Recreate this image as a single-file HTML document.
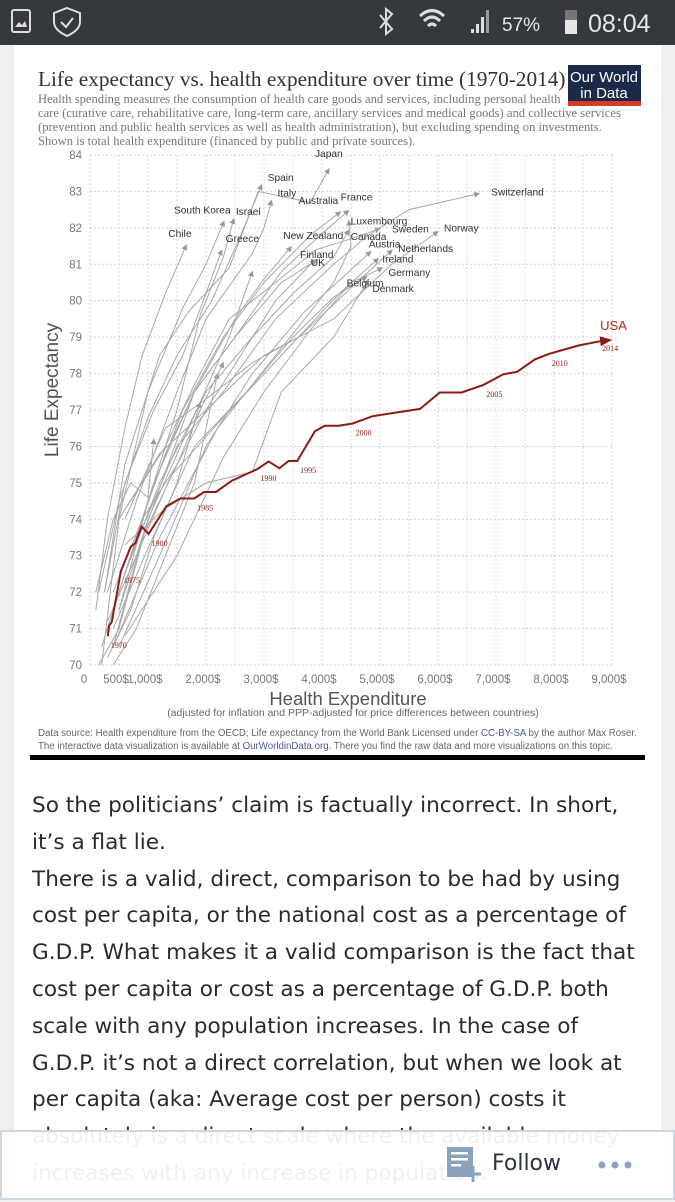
<!DOCTYPE html>
<html><head><meta charset="utf-8"><style>
*{margin:0;padding:0;box-sizing:border-box}
body{width:675px;height:1200px;overflow:hidden;background:#f0f0f0;font-family:"Liberation Sans",sans-serif;position:relative}
#status{position:absolute;left:0;top:0;width:675px;height:45px;background:#35383c;color:#e6e6e6}
#page{position:absolute;left:14px;top:45px;width:647px;height:1155px;background:#fff}
#article{position:absolute;left:32px;top:788px;width:640px;font-family:"DejaVu Sans",sans-serif;font-size:21.6px;line-height:36.8px;color:#2b2b2b;white-space:nowrap}
#follow{position:absolute;left:0;top:1130px;width:675px;height:70px;background:rgba(255,255,255,0.93);border:2px solid #cbd6de}
</style></head><body>
<div id="status">
 <svg width="675" height="45">
  <rect x="12" y="10" width="18" height="22" rx="2" fill="none" stroke="#ddd" stroke-width="2"/>
  <path d="M15 27 L19 22 L22 25 L25 21 L27 27Z" fill="#ddd"/>
  <path d="M67 8 L80 13 L80 22 Q80 30 67 36 Q54 30 54 22 L54 13Z" fill="none" stroke="#ddd" stroke-width="2"/>
  <path d="M61 22 L66 27 L73 18" fill="none" stroke="#ddd" stroke-width="2"/>
  <path d="M380 15 L392 29 L386 34 L386 9 L392 14 L380 28" fill="none" stroke="#ddd" stroke-width="2"/>
  <path d="M420 16 Q432 5 444 16 M424 21 Q432 13 440 21 M428 26 Q432 22 436 26" fill="none" stroke="#ddd" stroke-width="3"/>
  <rect x="471" y="29" width="3" height="4" fill="#ddd"/><rect x="476" y="24" width="3" height="9" fill="#ddd"/><rect x="481" y="17" width="3" height="16" fill="#ddd"/><rect x="486" y="10" width="3" height="23" fill="#999"/>
  <rect x="565" y="10" width="12" height="24" fill="#777"/><rect x="565" y="20" width="12" height="14" fill="#e6e6e6"/>
  <text x="502" y="31" font-size="19" fill="#e6e6e6" font-family="Liberation Sans">57%</text>
  <text x="588" y="32" font-size="25" fill="#e6e6e6" font-family="Liberation Sans">08:04</text>
 </svg>
</div>
<div id="page"></div>
<svg id="chart" width="675" height="780" style="position:absolute;left:0;top:0">
 <rect x="30" y="58" width="616" height="706" fill="#fff"/>
 <text x="38" y="86" font-family="Liberation Serif,serif" font-size="21.3" fill="#333">Life expectancy vs. health expenditure over time (1970-2014)</text>
 <g font-family="Liberation Serif,serif" font-size="12.6" fill="#777">
  <text x="38" y="103">Health spending measures the consumption of health care goods and services, including personal health</text>
  <text x="38" y="117">care (curative care, rehabilitative care, long-term care, ancillary services and medical goods) and collective services</text>
  <text x="38" y="131">(prevention and public health services as well as health administration), but excluding spending on investments.</text>
  <text x="38" y="145">Shown is total health expenditure (financed by public and private sources).</text>
 </g>
 <g>
  <rect x="568" y="65" width="73" height="40" fill="#1b2a48"/><rect x="568" y="101" width="73" height="5" fill="#d63b26"/>
  <text x="604" y="82" text-anchor="middle" font-size="15" fill="#fff" font-family="Liberation Sans">Our World</text>
  <text x="604" y="98" text-anchor="middle" font-size="15" fill="#fff" font-family="Liberation Sans">in Data</text>
 </g>
 <g id="grid"></g><g id="yticks"></g><g id="xticks"></g><g id="others"></g><g id="usa"></g>
 <text transform="translate(58,390) rotate(-90)" text-anchor="middle" font-size="19" fill="#555">Life Expectancy</text>
 <text x="348" y="705" text-anchor="middle" font-size="18.5" fill="#555">Health Expenditure</text>
 <text x="353" y="716" text-anchor="middle" font-size="10.5" fill="#666">(adjusted for inflation and PPP-adjusted for price differences between countries)</text>
 <g font-size="9.7" fill="#666">
  <text x="38" y="736">Data source: Health expenditure from the OECD; Life expectancy from the World Bank    Licensed under <tspan fill="#4a5a9a">CC-BY-SA</tspan> by the author Max Roser.</text>
  <text x="38" y="749">The interactive data visualization is available at <tspan fill="#4a5a9a">OurWorldinData.org</tspan>. There you find the raw data and more visualizations on this topic.</text>
 </g>
 <rect x="30" y="755" width="615" height="5" fill="#000"/>
</svg>
<div id="article">So the politicians’ claim is factually incorrect. In short,<br>it’s a flat lie.<br>There is a valid, direct, comparison to be had by using<br>cost per capita, or the national cost as a percentage of<br>G.D.P. What makes it a valid comparison is the fact that<br>cost per capita or cost as a percentage of G.D.P. both<br>scale with any population increases. In the case of<br>G.D.P. it’s not a direct correlation, but when we look at<br>per capita (aka: Average cost per person) costs it<br>absolutely is a direct scale where the available money<br>increases with any increase in population.</div>
<div id="follow">
 <svg width="675" height="70" style="position:absolute;left:0;top:0">
  <g>
   <rect x="445" y="15" width="26" height="30" fill="#8aa3bb"/>
   <rect x="449" y="20" width="17" height="2.5" fill="#fff"/><rect x="449" y="26" width="17" height="2.5" fill="#fff"/><rect x="449" y="32" width="10" height="2.5" fill="#fff"/>
   <path d="M471 34 V50 M463 42 H479" stroke="#8aa3bb" stroke-width="3"/>
   <text x="490" y="38" font-size="22" fill="#2b3440" font-family="DejaVu Sans,sans-serif">Follow</text>
  </g>
  <g fill="#8aa3bb"><circle cx="600" cy="33" r="3.5"/><circle cx="613" cy="33" r="3.5"/><circle cx="626" cy="33" r="3.5"/></g>
 </svg>
</div>
<script>
const yTicks=[70,71,72,73,74,75,76,77,78,79,80,81,82,83,84];
const xTickVals=[0,500,1000,2000,3000,4000,5000,6000,7000,8000,9000];
const xTickLabels=["0","500$","1,000$","2,000$","3,000$","4,000$","5,000$","6,000$","7,000$","8,000$","9,000$"];
const usaSpend=[307,330,375,533,703,785,888,1010,1318,1557,1796,1967,2172,2445,2889,3080,3265,3422,3572,3880,4050,4290,4529,4870,5690,6031,6407,6783,7125,7364,7671,7910,8422,8798,8968];
const usaLife=[70.79,71.08,71.18,72.58,73.25,73.35,73.8,73.6,74.36,74.57,74.57,74.75,74.75,75.06,75.38,75.59,75.4,75.6,75.6,76.42,76.57,76.57,76.63,76.83,77.03,77.48,77.48,77.69,77.98,78.05,78.39,78.54,78.77,78.89,78.92];
const usaYears=["1970","1975","1980","1985","1990","1995","2000","2005","2010","2014"];
const usaYearIdx=[0,3,7,10,14,18,22,27,31,34];
const countryNames=["Japan","Spain","Italy","South Korea","Israel","Chile","Greece","Australia","France","Luxembourg","Canada","Sweden","Switzerland","Norway","New Zealand","Finland","UK","Austria","Netherlands","Ireland","Germany","Belgium","Denmark","","","","",""];
const countrySpend=[
[250,600,1200,1700,2400,2900,3800,4120],
[150,500,1000,1500,2100,2600,2960],
[300,800,1500,2000,2800,3000,3130],
[200,500,1000,1600,2000,2310],
[500,1000,1500,1900,2300,2480],
[100,300,600,900,1300,1660],
[250,600,1100,1600,2000,2270],
[400,1000,1600,2300,3000,3800,4320],
[500,1100,1800,2500,3300,3900,4460],
[400,1200,2200,3200,4200,4500,4460],
[600,1200,2000,2800,3500,4200,4460],
[700,1300,1800,2400,3200,3900,4500,5000],
[700,1500,2300,3200,4200,4800,5500,6710],
[500,1200,2000,3000,4200,5200,6000],
[500,900,1300,1800,2500,3000,3470],
[400,900,1500,2000,2600,3200,3880],
[400,900,1300,1800,2500,3300,3910],
[500,1200,2000,2800,3700,4400,4840],
[600,1300,2000,2800,3600,4600,5210],
[300,800,1400,2300,3300,4300,4970],
[600,1500,2300,3000,3800,4500,5040],
[400,1000,1800,2700,3500,4200,4770],
[600,1300,2000,2800,3300,4200,4800],
[150,500,1000,1700,2400,2800],
[100,400,700,1000,1100],
[400,800,1300,1800,2200],
[200,500,900,1500,1900,2300],
[300,700,1100,1500,1900]];
const countryLife=[
[72,75.5,78.5,79.7,80.9,83.0,82.7,83.62],
[72,74.5,76.8,78.5,80.0,81.8,83.18],
[72,74.5,77.5,79.5,81.3,82.0,82.75],
[70,74,77.5,79.8,81.0,82.18],
[71.5,74.5,77.0,79.6,81.2,82.25],
[71.5,74,76.5,78.5,80.2,81.53],
[72,75,77,78.5,80.2,81.39],
[71.5,74.5,77,79,80.5,81.8,82.44],
[72,75,77.5,79,80.8,81.7,82.48],
[70.5,73.5,76.5,78.5,80.5,81.5,82.2],
[72.5,75,77.5,79,80.2,81.2,81.94],
[74.5,76,77.7,79.5,80.5,81.4,81.7,81.98],
[73,76,77.5,79.5,81.0,81.8,82.5,82.94],
[74,75.8,77,78.5,79.5,81.0,81.9],
[71.5,73.5,75.3,77.5,79.5,80.6,81.48],
[70.5,73.5,75.5,77.0,78.5,80.0,81.12],
[72,74,75.8,77.5,79,80.5,81.12],
[70.5,73,76,78,79.7,80.7,81.35],
[74,76.5,77.3,78.3,79,80.5,81.39],
[71.2,73,75.2,76.8,78.5,80.2,81.16],
[70.8,73,75.7,77.5,79.2,80.5,80.9],
[71,73.2,76,77.5,79,80.1,80.66],
[73.3,74.3,75,75.3,77.5,79,80.57],
[70,71,74,76.5,79,80.8],
[72,74,75,74.6,76.2],
[70,71,73,75,78],
[70.5,72,74,75.5,77,78.3],
[70.2,71.5,73.5,75,77.2]];
const labelDx=[-14,6,6,-50,2,-18,4,-42,-8,2,2,12,12,6,-8,-15,-6,-2,6,4,6,-20,4];
const labelDy=[-12,-4,-4,-8,-4,-8,-8,-8,-10,4,10,4,2,0,-8,-2,6,-4,2,4,8,10,12];
const NS="http://www.w3.org/2000/svg";
function X(v){return 90+v/1000*58;}
function Y(v){return 155+(84-v)*36.43;}
function mk(t,a,p){const e=document.createElementNS(NS,t);for(const k in a)e.setAttribute(k,a[k]);p.appendChild(e);return e;}
const grid=document.getElementById('grid');
yTicks.forEach(t=>{const l=mk('line',{x1:X(0),x2:X(9000),y1:Y(t),y2:Y(t),stroke:'#d4d4d4','stroke-dasharray':'2,2'},grid);

});
for(let v=0;v<=9000;v+=500){const l=mk('line',{x1:X(v),x2:X(v),y1:Y(84),y2:Y(70),stroke:'#d4d4d4','stroke-dasharray':'2,2'},grid);

}
const yt=document.getElementById('yticks');
yTicks.forEach(t=>{const e=mk('text',{x:82,y:Y(t)+4,'text-anchor':'end','font-size':11.5,fill:'#777'},yt);e.textContent=t;

});
const xt=document.getElementById('xticks');
xTickVals.forEach((v,i)=>{const e=mk('text',{x:i==0?X(v)-6:X(v)-3,y:683,'text-anchor':'middle','font-size':11.5,fill:'#777'},xt);e.textContent=xTickLabels[i];

});
const defs=mk('defs',{},document.getElementById('chart'));
const m1=mk('marker',{id:'ag',markerWidth:6,markerHeight:6,refX:5,refY:3,orient:'auto',markerUnits:'userSpaceOnUse'},defs);mk('path',{d:'M0,0 L6,3 L0,6Z',fill:'#999'},m1);
const m2=mk('marker',{id:'ar',markerWidth:12,markerHeight:10,refX:10,refY:5,orient:'auto',markerUnits:'userSpaceOnUse'},defs);mk('path',{d:'M0,0 L12,5 L0,10Z',fill:'#8c1c13'},m2);
const cp=mk('clipPath',{id:'plot'},defs);mk('rect',{x:X(0),y:Y(84.5),width:X(9200)-X(0),height:Y(70)-Y(84.5)},cp);
const og=document.getElementById('others');og.setAttribute('clip-path','url(#plot)');
countrySpend.forEach((s,i)=>{const d=s.map((v,j)=>(j?'L':'M')+X(v).toFixed(1)+','+Y(countryLife[i][j]).toFixed(1)).join(' ');
const p=mk('path',{d:d,fill:'none',stroke:'#a8a8a8','stroke-width':1,'marker-end':'url(#ag)'},og);


if(countryNames[i]){const n=s.length-1;const t=mk('text',{x:X(s[n])+labelDx[i],y:Y(countryLife[i][n])+labelDy[i],'font-size':10.2,fill:'#333'},document.getElementById('chart'));t.textContent=countryNames[i];

}});
const ug=document.getElementById('usa');
const ud=usaSpend.map((v,j)=>(j?'L':'M')+X(v).toFixed(1)+','+Y(usaLife[j]).toFixed(1)).join(' ');
const up=mk('path',{d:ud,fill:'none',stroke:'#8c1c13','stroke-width':2,'marker-end':'url(#ar)'},ug);


const ul=mk('text',{x:X(usaSpend[34])-10,y:Y(usaLife[34])-10,'font-size':13,fill:'#b02a1c'},ug);ul.textContent='USA';


usaYears.forEach((y,k)=>{const i=usaYearIdx[k];const t=mk('text',{x:X(usaSpend[i])+(k==9?-8:3),y:Y(usaLife[i])+(k==9?11:12),'font-size':8,fill:'#8c1c13','font-family':'Liberation Serif,serif'},ug);t.textContent=y;

});
</script>
</body></html>
